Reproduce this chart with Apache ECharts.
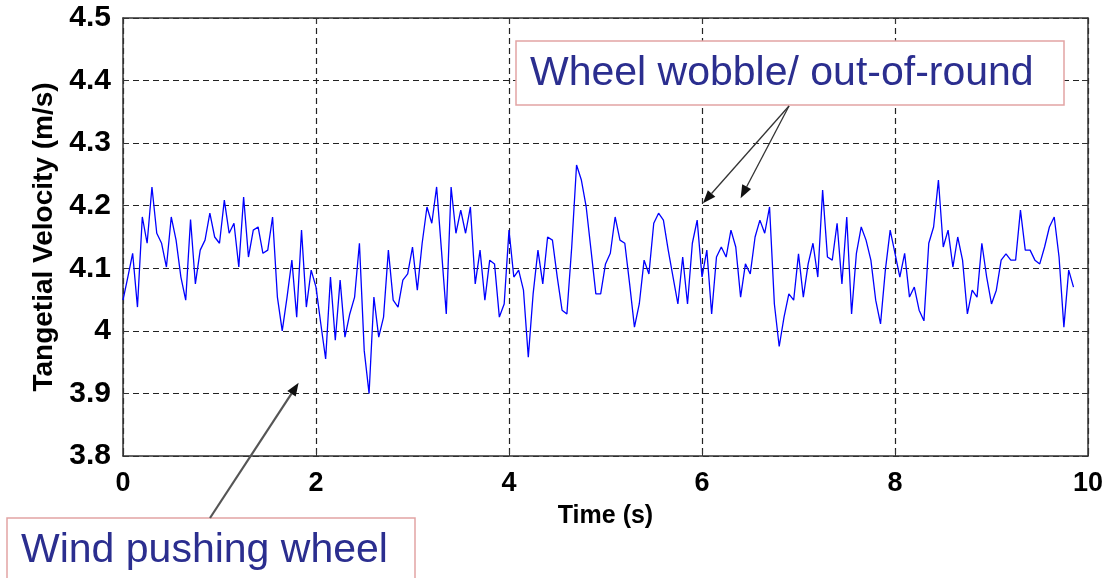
<!DOCTYPE html>
<html>
<head>
<meta charset="utf-8">
<script src="https://cdn.jsdelivr.net/npm/echarts@6/dist/echarts.min.js"></script>
<style>
    html, body { margin: 0; padding: 0; background: #fff; }
    #main { width: 1107px; height: 578px; }
</style>
</head>
<body>
<div id="main"></div>
<script>
    // sampling step of the trace (s)
    var dt = 0.05;
    // tangential velocity, m/s
    var velocity = [
        4.049, 4.086, 4.124, 4.038, 4.182, 4.140, 4.230, 4.156, 4.140, 4.102,
        4.182, 4.145, 4.086, 4.049, 4.178, 4.075, 4.129, 4.145, 4.188, 4.150,
        4.140, 4.209, 4.156, 4.172, 4.102, 4.214, 4.118, 4.161, 4.166, 4.124,
        4.129, 4.182, 4.054, 4.000, 4.054, 4.113, 4.022, 4.161, 4.038, 4.097,
        4.070, 4.011, 3.955, 4.086, 3.985, 4.081, 3.990, 4.027, 4.054, 4.140,
        3.968, 3.900, 4.054, 3.990, 4.022, 4.129, 4.049, 4.038, 4.081, 4.091,
        4.134, 4.065, 4.140, 4.198, 4.172, 4.230, 4.129, 4.027, 4.230, 4.156,
        4.193, 4.156, 4.198, 4.075, 4.129, 4.049, 4.113, 4.107, 4.022, 4.043,
        4.161, 4.086, 4.097, 4.065, 3.958, 4.059, 4.129, 4.075, 4.150, 4.145,
        4.086, 4.033, 4.027, 4.134, 4.265, 4.241, 4.198, 4.129, 4.059, 4.059,
        4.107, 4.124, 4.182, 4.145, 4.140, 4.075, 4.006, 4.043, 4.113, 4.091,
        4.172, 4.188, 4.177, 4.129, 4.086, 4.043, 4.118, 4.043, 4.140, 4.177,
        4.086, 4.129, 4.027, 4.118, 4.134, 4.118, 4.161, 4.134, 4.054, 4.107,
        4.091, 4.150, 4.177, 4.156, 4.198, 4.043, 3.975, 4.022, 4.059, 4.049,
        4.123, 4.054, 4.107, 4.140, 4.086, 4.225, 4.118, 4.113, 4.172, 4.075,
        4.182, 4.027, 4.124, 4.166, 4.145, 4.113, 4.049, 4.011, 4.097, 4.161,
        4.124, 4.086, 4.124, 4.054, 4.070, 4.033, 4.016, 4.140, 4.166, 4.241,
        4.134, 4.161, 4.102, 4.150, 4.113, 4.027, 4.065, 4.054, 4.140, 4.086,
        4.043, 4.065, 4.113, 4.123, 4.113, 4.113, 4.193, 4.129, 4.129, 4.113,
        4.107, 4.134, 4.166, 4.182, 4.118, 4.006, 4.097, 4.070
    ];
    var xRange = [0, 10];
    var yRange = [3.8, 4.5];

    // annotation targets, in data units
    var wobbleTips = [[6.01, 4.204], [6.40, 4.212]];
    var windTip = [1.82, 3.917];

    var chart = echarts.init(document.getElementById('main'));

    var dashed = { show: true, lineStyle: { color: '#222', type: [6, 4], width: 1.2 } };
    var frame = { show: true, onZero: false, lineStyle: { color: '#333', width: 1.5 } };
    var tickIn = { show: true, inside: true, length: 6, lineStyle: { color: '#333' } };
    var tickFont = { color: '#000', fontFamily: 'Liberation Sans', fontWeight: 'bold' };

    chart.setOption({
        animation: false,
        grid: { left: 123, right: 19, top: 18, bottom: 122 },
        xAxis: [{
            type: 'value', min: xRange[0], max: xRange[1], interval: 2,
            name: 'Time (s)', nameLocation: 'middle', nameGap: 48,
            nameTextStyle: { color: '#000', fontFamily: 'Liberation Sans', fontWeight: 'bold', fontSize: 25 },
            axisLine: frame, axisTick: tickIn, splitLine: dashed,
            axisLabel: Object.assign({ fontSize: 27, margin: 14 }, tickFont)
        }, {
            type: 'value', position: 'top', min: xRange[0], max: xRange[1], interval: 2,
            axisLine: frame, axisTick: tickIn, splitLine: { show: false }, axisLabel: { show: false }
        }],
        yAxis: [{
            type: 'value', min: yRange[0], max: yRange[1], interval: 0.1,
            name: 'Tangetial Velocity (m/s)', nameLocation: 'middle', nameGap: 64,
            nameTextStyle: { color: '#000', fontFamily: 'Liberation Sans', fontWeight: 'bold', fontSize: 28 },
            axisLine: frame, axisTick: tickIn, splitLine: dashed,
            axisLabel: Object.assign({ fontSize: 30, margin: 12 }, tickFont)
        }, {
            type: 'value', position: 'right', min: yRange[0], max: yRange[1], interval: 0.1,
            axisLine: frame, axisTick: tickIn, splitLine: { show: false }, axisLabel: { show: false }
        }],
        series: [{
            type: 'line',
            showSymbol: false,
            lineStyle: { color: '#0000ff', width: 1.3 },
            data: velocity.map(function (v, i) { return [+(i * dt).toFixed(2), v]; })
        }]
    });

    // arrow line with a filled head at (x2, y2)
    function arrow(x1, y1, x2, y2, color, width) {
        var a = Math.atan2(y2 - y1, x2 - x1), L = 13, W = 5;
        var bx = x2 - L * Math.cos(a), by = y2 - L * Math.sin(a);
        return [{
            type: 'line', z: 50,
            shape: { x1: x1, y1: y1, x2: bx, y2: by },
            style: { stroke: color, lineWidth: width }
        }, {
            type: 'polygon', z: 50,
            shape: { points: [[x2, y2],
                [bx + W * Math.sin(a), by - W * Math.cos(a)],
                [bx - W * Math.sin(a), by + W * Math.cos(a)]] },
            style: { fill: '#111' }
        }];
    }

    var noteFont = '41px "Liberation Sans", Arial, sans-serif';
    var graphics = [
        { type: 'rect', z: 40, shape: { x: 516, y: 41, width: 548, height: 64 },
          style: { fill: '#fff', stroke: '#e2a4a4', lineWidth: 1.5 } },
        { type: 'text', z: 41, style: { text: 'Wheel wobble/ out-of-round', x: 530, y: 74,
          verticalAlign: 'middle', font: noteFont, fill: '#2b2e8f' } },
        { type: 'rect', z: 40, shape: { x: 7, y: 518, width: 408, height: 70 },
          style: { fill: '#fff', stroke: '#e2a4a4', lineWidth: 1.5 } },
        { type: 'text', z: 41, style: { text: 'Wind pushing wheel', x: 21, y: 551,
          verticalAlign: 'middle', font: noteFont, fill: '#2b2e8f' } }
    ];
    wobbleTips.forEach(function (p) {
        var px = chart.convertToPixel({ gridIndex: 0 }, p);
        graphics = graphics.concat(arrow(789, 106, px[0], px[1], '#333', 1.3));
    });
    var w = chart.convertToPixel({ gridIndex: 0 }, windTip);
    graphics = graphics.concat(arrow(210, 518, w[0], w[1], '#555', 2.2));

    chart.setOption({ graphic: graphics });
</script>
</body>
</html>
